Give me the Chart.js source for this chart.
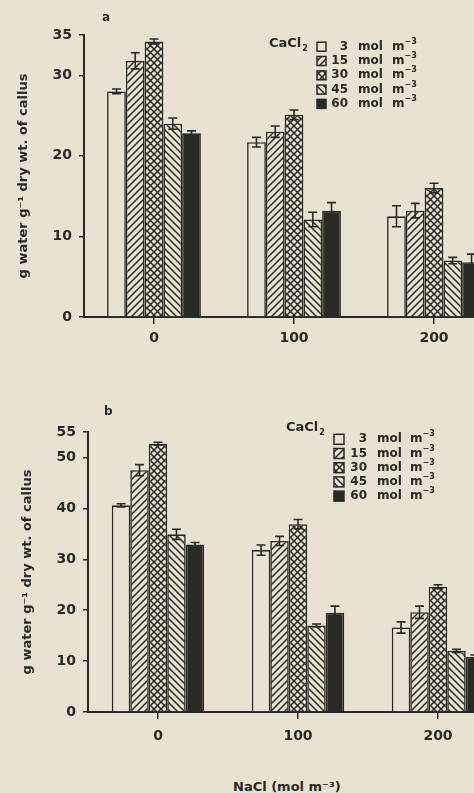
<!DOCTYPE html>
<html>
<head>
<meta charset="utf-8">
<script src="https://cdn.jsdelivr.net/npm/chart.js@4.4.1/dist/chart.umd.min.js"></script>
<style>
    body { margin: 0; background: #e8e2d3; width: 474px; height: 793px; overflow: hidden; position: relative; }
    .box { position: absolute; left: 0; }
    .lbl { position: absolute; font: bold 12px "DejaVu Sans", sans-serif; color: #2a2a24; }
</style>
</head>
<body>
<div class="box" style="top:0; width:504px; height:360px;"><canvas id="chartA"></canvas></div>
<div class="box" style="top:380px; width:508px; height:380px;"><canvas id="chartB"></canvas></div>
<div class="lbl" style="left:102px; top:10px;">a</div>
<div class="lbl" style="left:104px; top:404px;">b</div>
<div class="lbl" style="left:233px; top:779px; font-size:13px;">NaCl (mol m⁻³)</div>
<script>
// NaCl levels (x categories) and CaCl2 levels (series)
const categories = ['0', '100', '200'];
const cacl2Levels = ['3', '15', '30', '45', '60'];

// panel a
const a3 = [28.0, 21.7, 12.5];
const a15 = [31.8, 23.0, 13.2];
const a30 = [34.2, 25.1, 16.0];
const a45 = [24.0, 12.1, 7.0];
const a60 = [22.8, 13.2, 6.8];
const a3Err = [0.3, 0.6, 1.3];
const a15Err = [1.0, 0.7, 0.9];
const a30Err = [0.3, 0.6, 0.6];
const a45Err = [0.7, 0.9, 0.4];
const a60Err = [0.3, 1.0, 1.0];
const yTicksA = [0, 10, 20, 30, 35];

// panel b
const b3 = [40.6, 31.8, 16.6];
const b15 = [47.5, 33.6, 19.6];
const b30 = [52.7, 36.9, 24.6];
const b45 = [34.9, 17.0, 12.0];
const b60 = [32.9, 19.5, 10.8];
const b3Err = [0.3, 1.0, 1.1];
const b15Err = [1.1, 0.9, 1.2];
const b30Err = [0.3, 0.9, 0.4];
const b45Err = [1.0, 0.3, 0.3];
const b60Err = [0.4, 1.3, 0.4];
const yTicksB = [0, 10, 20, 30, 40, 50, 55];

const INK = '#2a2a24';
const PAPER = '#e8e2d3';
const FONT = '"DejaVu Sans", sans-serif';

function makePattern(kind) {
    const s = 7;
    const c = document.createElement('canvas');
    c.width = s; c.height = s;
    const g = c.getContext('2d');
    g.fillStyle = PAPER;
    g.fillRect(0, 0, s, s);
    g.strokeStyle = INK;
    g.lineWidth = 1.5;
    if (kind === 'up' || kind === 'cross') {
        g.beginPath();
        g.moveTo(-1, s + 1); g.lineTo(s + 1, -1);
        g.moveTo(-1, 1); g.lineTo(1, -1);
        g.moveTo(s - 1, s + 1); g.lineTo(s + 1, s - 1);
        g.stroke();
    }
    if (kind === 'down' || kind === 'cross') {
        g.beginPath();
        g.moveTo(-1, -1); g.lineTo(s + 1, s + 1);
        g.moveTo(s - 1, -1); g.lineTo(s + 1, 1);
        g.moveTo(-1, s - 1); g.lineTo(1, s + 1);
        g.stroke();
    }
    return g.createPattern(c, 'repeat');
}

const fills = [PAPER, makePattern('up'), makePattern('cross'), makePattern('down'), INK];

const errorBars = {
    id: 'errorBars',
    afterDatasetsDraw(chart) {
        const ctx = chart.ctx;
        const y = chart.scales.y;
        ctx.save();
        ctx.strokeStyle = INK;
        ctx.lineWidth = 1.6;
        chart.data.datasets.forEach((ds, i) => {
            chart.getDatasetMeta(i).data.forEach((bar, j) => {
                const v = ds.data[j], e = ds.errors[j];
                const top = y.getPixelForValue(v + e);
                const bot = y.getPixelForValue(v - e);
                ctx.beginPath();
                ctx.moveTo(bar.x, top); ctx.lineTo(bar.x, bot);
                ctx.moveTo(bar.x - 4.5, top); ctx.lineTo(bar.x + 4.5, top);
                ctx.moveTo(bar.x - 4.5, bot); ctx.lineTo(bar.x + 4.5, bot);
                ctx.stroke();
            });
        });
        ctx.restore();
    }
};

const cacl2Legend = {
    id: 'cacl2Legend',
    afterDraw(chart, args, o) {
        const ctx = chart.ctx;
        ctx.save();
        ctx.fillStyle = INK;
        ctx.textBaseline = 'middle';
        ctx.font = 'bold 13px ' + FONT;
        ctx.textAlign = 'left';
        ctx.fillText('CaCl', o.x, o.y - 2);
        const w = ctx.measureText('CaCl').width;
        ctx.font = 'bold 8px ' + FONT;
        ctx.fillText('2', o.x + w + 1, o.y + 3);
        chart.data.datasets.forEach((ds, i) => {
            const ry = o.y0 + i * o.rowH;
            ctx.fillStyle = ds.backgroundColor;
            ctx.fillRect(o.boxX, ry - o.box / 2, o.box, o.box);
            ctx.strokeStyle = INK;
            ctx.lineWidth = 1.5;
            ctx.strokeRect(o.boxX, ry - o.box / 2, o.box, o.box);
            ctx.fillStyle = INK;
            ctx.font = 'bold 12px ' + FONT;
            ctx.textAlign = 'right';
            ctx.fillText(ds.label, o.numRight, ry);
            ctx.textAlign = 'left';
            ctx.fillText('mol', o.molX, ry);
            ctx.fillText('m', o.mX, ry);
            const mw = ctx.measureText('m').width;
            ctx.font = 'bold 8px ' + FONT;
            ctx.fillText('−3', o.mX + mw, ry - 5);
        });
        ctx.restore();
    }
};

function buildChart(id, series, errs, yMax, yTicks, layout) {
    const datasets = series.map((data, i) => ({
        label: cacl2Levels[i],
        data: data,
        errors: errs[i],
        backgroundColor: fills[i],
        borderColor: INK,
        borderWidth: 1.6,
        barPercentage: 1,
        categoryPercentage: layout.catPct
    }));
    new Chart(document.getElementById(id), {
        type: 'bar',
        data: { labels: categories, datasets: datasets },
        options: {
            responsive: true,
            maintainAspectRatio: false,
            animation: false,
            layout: { padding: { top: layout.top, right: 0, bottom: 0, left: 0 } },
            plugins: {
                legend: { display: false },
                tooltip: { enabled: false },
                cacl2Legend: layout.legend
            },
            scales: {
                x: {
                    grid: { offset: false, drawOnChartArea: false, tickLength: 7, color: INK, lineWidth: 1.5 },
                    border: { color: INK, width: 2 },
                    ticks: { color: INK, padding: layout.xPad, font: { family: FONT, size: 14, weight: 'bold' } },
                    afterFit: s => { s.height = layout.xH; }
                },
                y: {
                    min: 0,
                    max: yMax,
                    afterBuildTicks: axis => { axis.ticks = yTicks.map(v => ({ value: v })); },
                    grid: { drawOnChartArea: false, tickLength: 5, color: INK, lineWidth: 1.5 },
                    border: { color: INK, width: 2 },
                    ticks: { color: INK, padding: 7, font: { family: FONT, size: 14, weight: 'bold' } },
                    title: {
                        display: true,
                        text: 'g water g⁻¹ dry wt. of callus',
                        color: INK,
                        padding: { top: layout.titlePad },
                        font: { family: FONT, size: 13, weight: 'bold' }
                    },
                    afterFit: s => { s.width = layout.yW; }
                }
            }
        },
        plugins: [errorBars, cacl2Legend]
    });
}

buildChart('chartA', [a3, a15, a30, a45, a60], [a3Err, a15Err, a30Err, a45Err, a60Err], 35, yTicksA, {
    top: 35, xH: 43, yW: 84, xPad: 6, catPct: 0.67, titlePad: 16,
    legend: { x: 269, y: 46, y0: 46.7, rowH: 14.3, boxX: 317, box: 9, numRight: 348, molX: 358, mX: 392 }
});

buildChart('chartB', [b3, b15, b30, b45, b60], [b3Err, b15Err, b30Err, b45Err, b60Err], 55, yTicksB, {
    top: 52, xH: 48, yW: 88, xPad: 9, catPct: 0.66, titlePad: 20,
    legend: { x: 286, y: 50, y0: 59.3, rowH: 14.2, boxX: 334, box: 10, numRight: 367, molX: 377, mX: 410 }
});
</script>
</body>
</html>
